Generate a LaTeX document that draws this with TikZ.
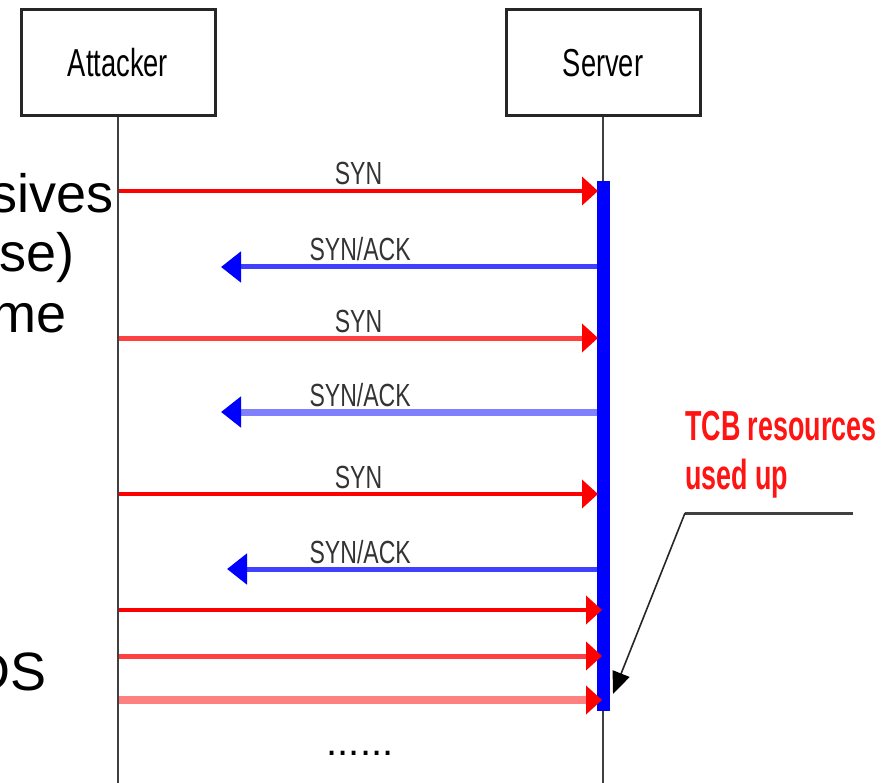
\documentclass[tikz,border=0pt]{standalone}
\usepackage{fontspec}
\setmainfont{Liberation Sans}
\usetikzlibrary{arrows.meta}
\definecolor{ackA}{RGB}{64,64,255}
\definecolor{ackB}{RGB}{128,128,255}
\definecolor{synB}{RGB}{255,64,64}
\definecolor{synC}{RGB}{255,128,128}
\definecolor{tcbred}{RGB}{255,20,20}
% horizontally condensed text, as used for all diagram labels
\newcommand\sqz[2][0.72]{\scalebox{#1}[1]{#2}}
\begin{document}
\begin{tikzpicture}[x=1pt,y=-1pt,
  actorbox/.style={draw=black!85, line width=3pt, minimum width=194pt,
    minimum height=106pt, inner sep=0pt, font=\fontsize{39}{39}\selectfont},
  lifeline/.style={draw=black!75, line width=2.5pt},
  msglabel/.style={anchor=base, inner sep=0pt, yshift=6pt,
    font=\fontsize{32}{32}\selectfont, text=black!80},
  synmsg/.style={line width=4pt, -{Triangle[length=16pt,width=28pt,color=red]}},
  ackmsg/.style={line width=5pt, -{Triangle[length=20pt,width=30pt,color=blue]}},
  slide/.style={anchor=base east, inner sep=0pt, font=\fontsize{54}{60}\selectfont},
]
\useasboundingbox (0,0) rectangle (888,783);

% slide text running behind the diagram
\node[slide] (t1) at (114,213) {sives};
\node[slide] (t2) at (75,272) {se)};
\node[slide] (t3) at (67,333) {me};
\node[slide] (t4) at (47,690) {DS};

% participants and lifelines
\node[actorbox] (attacker) at (118,63) {\sqz[0.7]{Attacker}};
\node[actorbox] (server) at (603,63) {\sqz[0.7]{Server}};
\coordinate (attEnd) at (118,790);
\coordinate (srvEnd) at (603,790);
\draw[lifeline] (attacker.south) -- (attEnd);
\draw[lifeline] (server.south) -- (srvEnd);

% server activation bar
\node[fill=blue, minimum width=13pt, minimum height=530pt, inner sep=0pt] (act) at (603.5,446) {};

% message end points
\coordinate (a1) at (119,191); \coordinate (s1) at (598,191);
\coordinate (s2) at (597,267); \coordinate (a2) at (221,267);
\coordinate (a3) at (119,338); \coordinate (s3) at (598,338);
\coordinate (s4) at (597,412); \coordinate (a4) at (221,412);
\coordinate (a5) at (119,494); \coordinate (s5) at (598,494);
\coordinate (s6) at (597,569); \coordinate (a6) at (227,569);
\coordinate (a7) at (119,610); \coordinate (s7) at (602,610);
\coordinate (a8) at (119,656); \coordinate (s8) at (602,656);
\coordinate (a9) at (119,700); \coordinate (s9) at (602,700);

% handshake messages
\draw[synmsg, red] (a1) -- node[msglabel]{\sqz{SYN}} (s1);
\draw[ackmsg, ackA] (s2) -- node[msglabel, pos=0.63]{\sqz{SYN/ACK}} (a2);
\draw[synmsg, synB, line width=5pt] (a3) -- node[msglabel]{\sqz{SYN}} (s3);
\draw[ackmsg, ackB, line width=7pt] (s4) -- node[msglabel, pos=0.63]{\sqz{SYN/ACK}} (a4);
\draw[synmsg, red] (a5) -- node[msglabel]{\sqz{SYN}} (s5);
\draw[ackmsg, ackA] (s6) -- node[msglabel, pos=0.64]{\sqz{SYN/ACK}} (a6);
\draw[synmsg, red] (a7) -- (s7);
\draw[synmsg, synB, line width=5pt] (a8) -- (s8);
\draw[synmsg, synC, line width=8pt] (a9) -- (s9);

% continuation
\node[anchor=base, inner sep=0pt, font=\fontsize{40}{40}\selectfont] (more) at (360,755) {......};

% annotation
\node[anchor=north west, inner sep=0pt, align=left, text=tcbred,
  font=\fontsize{42}{49}\bfseries\selectfont] (tcb) at (685,411)
  {\sqz[0.64]{TCB resources}\\\sqz[0.64]{used up}};
\coordinate (leadR) at (853,513);
\coordinate (leadK) at (685,513);
\coordinate (leadTip) at (613,694);
\draw[black!75, line width=3pt] (leadR) -- (leadK);
\draw[black!85, line width=1.6pt, -{Triangle[length=22pt,width=18pt,color=black]}] (leadK) -- (leadTip);
\end{tikzpicture}
\end{document}
